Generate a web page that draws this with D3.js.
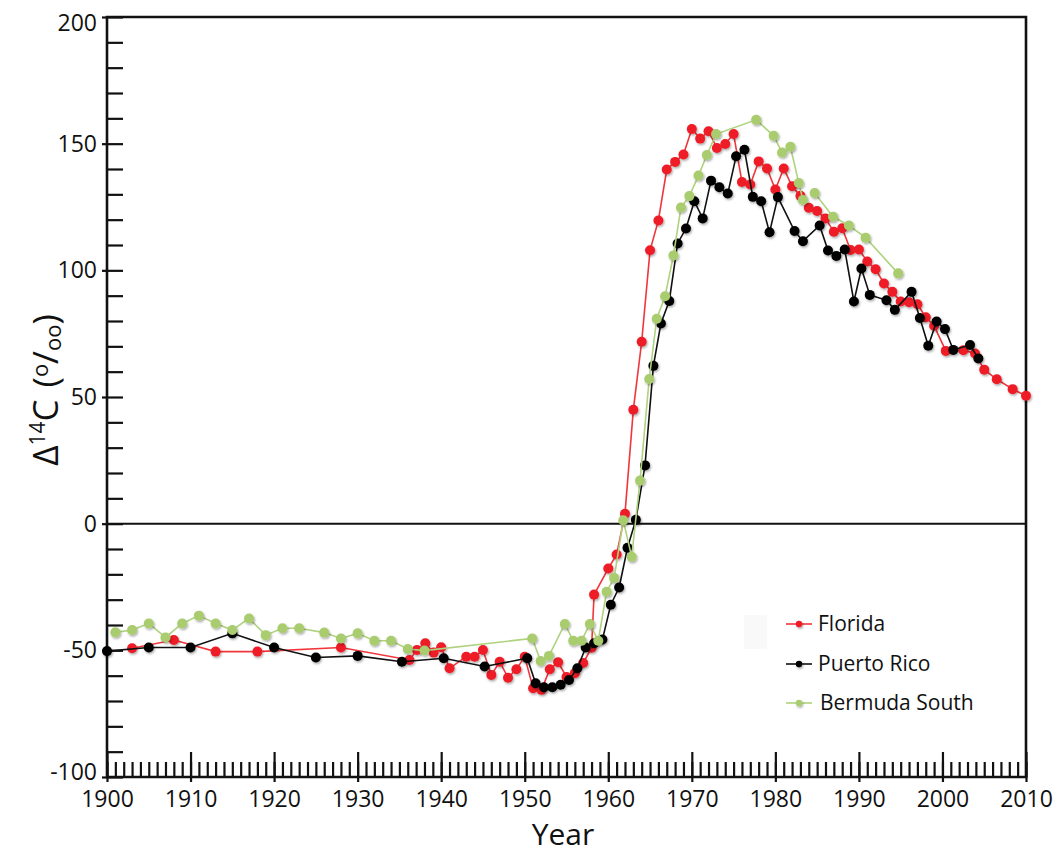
<!DOCTYPE html>
<html>
<head>
<meta charset="utf-8">
<script src="https://cdn.jsdelivr.net/npm/d3@7"></script>
<style>
  html, body { margin: 0; padding: 0; background: #fff; }
  svg { display: block; font-family: "Open Sans", "DejaVu Sans", sans-serif; }
</style>
</head>
<body>
<svg id="chart" width="1053" height="855"></svg>
<script>
// ---------- Data ----------
const floridaYear = [1903, 1908, 1913, 1918, 1928, 1936.2, 1937.1, 1938.1, 1939.1, 1940, 1941, 1943, 1944, 1945, 1946, 1947, 1948, 1949, 1950, 1951, 1952, 1953, 1954, 1955, 1956, 1957, 1958, 1958.3, 1960, 1961, 1962, 1963, 1964, 1965, 1966, 1967, 1968, 1969, 1970, 1971, 1972, 1973, 1974, 1975, 1976, 1977, 1978, 1979, 1980, 1981, 1982, 1983, 1984, 1985, 1986, 1987, 1988, 1989, 1990, 1991, 1992, 1993, 1994, 1995, 1996, 1997, 1998, 1999, 2000.4, 2002.5, 2003.9, 2005, 2006.5, 2008.4, 2010];
const floridaD14C = [-49.2, -45.9, -50.5, -50.5, -48.9, -53.8, -49.9, -47.2, -50.9, -48.8, -57.1, -52.5, -52.5, -49.9, -59.7, -54.5, -60.8, -57.5, -52.5, -65, -65.6, -57.5, -54.7, -60.5, -59, -55, -49, -28, -17.7, -12.2, 3.9, 45, 71.8, 107.9, 119.7, 139.8, 142.8, 145.7, 155.8, 152, 154.9, 148.3, 149.9, 153.8, 134.9, 133.9, 143, 140.2, 131.9, 140.2, 133.2, 129.4, 124.7, 123.4, 120.5, 115.2, 116.6, 108, 108.2, 103.5, 100.4, 94.8, 91.5, 87.7, 87.4, 86.6, 81.5, 78.1, 68.2, 68.5, 67.2, 60.8, 57, 53.1, 50.5];

const puertoRicoYear = [1900, 1905, 1910, 1915, 1920, 1925, 1930, 1935.3, 1940.3, 1945.2, 1950.3, 1951.3, 1952.3, 1953.3, 1954.3, 1955.3, 1956.3, 1957.3, 1958.3, 1959.3, 1960.3, 1961.3, 1962.3, 1963.3, 1964.4, 1965.4, 1966.3, 1967.3, 1968.3, 1969.3, 1970.3, 1971.3, 1972.3, 1973.3, 1974.3, 1975.3, 1976.3, 1977.3, 1978.3, 1979.3, 1980.3, 1982.3, 1983.3, 1985.3, 1986.3, 1987.3, 1988.3, 1989.4, 1990.3, 1991.3, 1993.3, 1994.3, 1996.3, 1997.3, 1998.3, 1999.3, 2000.3, 2001.3, 2003.3, 2004.3];
const puertoRicoD14C = [-50.3, -48.9, -48.9, -43.3, -48.9, -52.8, -52.2, -54.5, -53.1, -56.4, -53.1, -63, -64.6, -64.6, -63.6, -61.7, -57.1, -48.9, -47.2, -45.7, -32, -25.2, -9.5, 1.5, 23, 62.3, 79, 87.9, 110.6, 116.5, 127.3, 120.5, 135.4, 132.8, 130.3, 145, 147.6, 129, 127.3, 115, 128.9, 115.5, 111.5, 117.7, 107.8, 105.7, 108.2, 87.7, 100.7, 90.3, 88.2, 84.4, 91.5, 81.2, 70.2, 79.8, 76.8, 68.6, 70.5, 65.2];

const bermudaYear = [1901, 1903, 1905, 1907, 1909, 1911, 1913, 1915, 1917, 1919, 1921, 1923, 1926, 1928, 1930, 1932, 1934, 1936, 1938, 1950.9, 1951.9, 1952.9, 1954.8, 1955.8, 1956.8, 1957.8, 1958.8, 1959.8, 1960.7, 1961.8, 1962.8, 1963.8, 1964.9, 1965.8, 1966.8, 1967.8, 1968.7, 1969.7, 1970.8, 1971.8, 1972.9, 1977.7, 1979.8, 1980.8, 1981.8, 1982.8, 1983.3, 1984, 1984.7, 1986.9, 1988.8, 1990.8, 1994.7];
const bermudaD14C = [-42.9, -42, -39.4, -44.9, -39.4, -36.3, -39.4, -42, -37.4, -44, -41.3, -41.3, -43, -45.3, -43.3, -46.2, -46.2, -49.5, -50.1, -45.3, -54.2, -52.2, -39.6, -46.2, -46.2, -39.6, -46.2, -26.9, -21.4, 1.3, -13.1, 17, 57.1, 80.9, 89.8, 105.9, 124.8, 129.3, 137.4, 145.5, 153.8, 159.4, 153.1, 146.5, 148.8, 134.5, 127.8, null, 130.5, 121.2, 117.7, 112.9, 98.8];

const seriesNames = ["Florida", "Puerto Rico", "Bermuda South"];
const yMajorTicks = [-100, -50, 0, 50, 100, 150, 200];
const xMajorTicks = [1900, 1910, 1920, 1930, 1940, 1950, 1960, 1970, 1980, 1990, 2000, 2010];

// ---------- Layout ----------
const svg = d3.select("#chart");
const pLeft = 107, pRight = 1026, pTop = 17, pBottom = 777;
const x = d3.scaleLinear().domain([1900, 2010]).range([pLeft, pRight]);
const y = d3.scaleLinear().domain([-100, 200]).range([pBottom, pTop]);

const defs = svg.append("defs");
const f = defs.append("filter").attr("id", "shadow")
  .attr("x", "-50%").attr("y", "-50%").attr("width", "200%").attr("height", "200%");
f.append("feDropShadow").attr("dx", 1).attr("dy", 1.5).attr("stdDeviation", 1.2)
  .attr("flood-color", "#000").attr("flood-opacity", 0.35);

const series = [
  { name: seriesNames[0], years: floridaYear, vals: floridaD14C, line: "#f0363b", dot: "#ee1c25" },
  { name: seriesNames[1], years: puertoRicoYear, vals: puertoRicoD14C, line: "#111111", dot: "#000000" },
  { name: seriesNames[2], years: bermudaYear, vals: bermudaD14C, line: "#afd27f", dot: "#a9cc6e" }
];

// ---------- Axes ----------
const yMinor = svg.append("g").attr("transform", `translate(${pLeft},0)`)
  .call(d3.axisRight(y).tickValues(d3.range(-100, 201, 10)).tickSize(16).tickFormat(""));
const yMajor = svg.append("g").attr("transform", `translate(${pLeft},0)`)
  .call(d3.axisLeft(y).tickValues(yMajorTicks).tickSize(5).tickPadding(5).tickFormat(d => String(d)));
const xMinor = svg.append("g").attr("transform", `translate(0,${pBottom})`)
  .call(d3.axisTop(x).tickValues(d3.range(1900, 2011, 1)).tickSize(15).tickFormat(""));
const xMajorIn = svg.append("g").attr("transform", `translate(0,${pBottom})`)
  .call(d3.axisTop(x).tickValues(xMajorTicks).tickSize(25).tickFormat(""));
const xMajor = svg.append("g").attr("transform", `translate(0,${pBottom})`)
  .call(d3.axisBottom(x).tickValues(xMajorTicks).tickSize(5).tickPadding(9).tickFormat(d => String(d)));

[yMinor, yMajor, xMinor, xMajorIn, xMajor].forEach(g => {
  g.select(".domain").remove();
  g.selectAll(".tick line").attr("stroke", "#111").attr("stroke-width", 2.2);
});
yMajor.selectAll("text").attr("font-size", 23).attr("fill", "#111")
  .attr("font-family", "'Open Sans', sans-serif")
  .attr("y", d => d === 200 ? 6 : d === -100 ? -5 : 0);
xMajor.selectAll("text").attr("font-size", 23).attr("fill", "#111")
  .attr("font-family", "'Open Sans', sans-serif");

svg.append("path")
  .attr("d", `M${pLeft},${pTop}H${pRight}V${pBottom}H${pLeft}Z`)
  .attr("fill", "none").attr("stroke", "#111").attr("stroke-width", 2.6);
svg.append("line")
  .attr("x1", pLeft).attr("x2", pRight).attr("y1", y(0)).attr("y2", y(0))
  .attr("stroke", "#111").attr("stroke-width", 2);

// ---------- Series ----------
series.forEach(s => {
  const pts = s.years.map((yr, i) => ({ yr, v: s.vals[i] }));
  const line = d3.line().defined(d => d.v !== null).x(d => x(d.yr)).y(d => y(d.v));
  svg.append("path").datum(pts)
    .attr("d", line).attr("fill", "none")
    .attr("stroke", s.line).attr("stroke-width", 1.6);
  svg.append("g").attr("filter", "url(#shadow)")
    .selectAll("circle").data(pts.filter(d => d.v !== null)).join("circle")
    .attr("cx", d => x(d.yr)).attr("cy", d => y(d.v)).attr("r", 5)
    .attr("fill", s.dot);
});

// ---------- Legend ----------
svg.append("rect").attr("x", 744).attr("y", 615).attr("width", 23).attr("height", 34)
  .attr("fill", "#f9f9f9");
const legY = [624, 664, 703];
series.forEach((s, i) => {
  const g = svg.append("g").attr("transform", `translate(0,${legY[i]})`);
  g.append("line").attr("x1", 786).attr("x2", 812).attr("y1", 0).attr("y2", 0)
    .attr("stroke", s.line).attr("stroke-width", 1.6);
  g.append("circle").attr("cx", 799).attr("cy", 0).attr("r", 3.2).attr("fill", s.dot)
    .attr("filter", "url(#shadow)");
  g.append("text").attr("x", i === 2 ? 820 : 818).attr("y", 0).attr("dy", "0.35em")
    .attr("font-size", 21).attr("fill", "#111").text(s.name);
});

// ---------- Axis titles ----------
svg.append("text").attr("x", 563).attr("y", 845).attr("text-anchor", "middle")
  .attr("font-size", 30).attr("fill", "#111").text("Year");

const yt = svg.append("text")
  .attr("transform", "translate(58,390) rotate(-90)")
  .attr("text-anchor", "middle").attr("font-size", 35).attr("fill", "#111");
yt.append("tspan").text("Δ");
yt.append("tspan").attr("font-size", 21).attr("dy", -13).text("14");
yt.append("tspan").attr("dy", 13).text("C");
yt.append("tspan").attr("dx", 12).text("(");
yt.append("tspan").attr("font-size", 22).attr("dy", -10).text("o");
yt.append("tspan").attr("dy", 10).text("/");
yt.append("tspan").attr("font-size", 22).attr("dy", 3).text("oo");
yt.append("tspan").attr("dy", -3).text(")");
</script>
</body>
</html>
